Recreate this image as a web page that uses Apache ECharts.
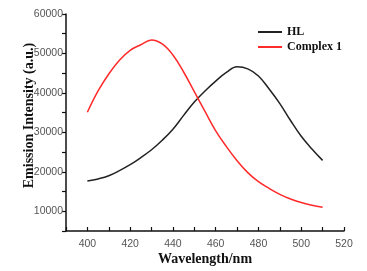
<!DOCTYPE html>
<html>
<head>
<meta charset="utf-8">
<script src="https://cdn.jsdelivr.net/npm/echarts@6/dist/echarts.min.js"></script>
<style>
  html, body { margin: 0; padding: 0; background: #fff; }
  #main { width: 367px; height: 271px; }
</style>
</head>
<body>
<div id="main"></div>
<script>
    // wavelengths (nm)
    var wavelengths = [400, 405, 410, 415, 420, 425, 430, 435, 440, 445, 450, 455, 460, 465, 470, 475, 480, 485, 490, 495, 500, 505, 510];
    var hlValues = [17650, 18200, 19000, 20300, 21800, 23600, 25600, 28000, 30800, 34300, 37700, 40500, 43000, 45200, 46600, 46100, 44300, 41000, 37300, 33000, 29000, 25800, 22900];
    var complexValues = [35100, 40500, 44800, 48300, 50800, 52200, 53400, 52400, 49600, 45300, 40300, 35300, 30400, 26400, 22800, 19800, 17500, 15800, 14300, 13100, 12200, 11500, 11000];
    var seriesNames = ['HL', 'Complex 1'];

    function pairs(xs, ys) {
        var out = [];
        for (var i = 0; i < xs.length; i++) {
            out.push([xs[i], ys[i]]);
        }
        return out;
    }

    var mychart = echarts.init(document.getElementById('main'));
    var serif = '"Liberation Serif", "DejaVu Serif", serif';
    var sans = '"Liberation Sans", Arial, sans-serif';

    mychart.setOption({
        animation: false,
        color: ['#222222', '#ff2a2a'],
        grid: {
            left: 66,
            right: 23,
            top: 14,
            bottom: 33
        },
        legend: {
            left: 253,
            top: 21,
            orient: 'vertical',
            itemWidth: 24,
            itemHeight: 2,
            itemGap: 3,
            icon: 'rect',
            textStyle: {
                fontFamily: serif,
                fontWeight: 'bold',
                fontSize: 12,
                color: '#111',
                padding: [0, 0, 0, 0]
            },
            data: seriesNames
        },
        xAxis: {
            type: 'value',
            min: 390,
            max: 520,
            interval: 10,
            name: 'Wavelength/nm',
            nameLocation: 'middle',
            nameGap: 21,
            nameMoveOverlap: false,
            nameTextStyle: {
                fontFamily: serif,
                fontWeight: 'bold',
                fontSize: 14,
                color: '#111'
            },
            axisLine: { lineStyle: { color: '#111', width: 1.5 } },
            axisTick: { inside: true, length: 4, lineStyle: { color: '#111', width: 1.2 } },
            axisLabel: {
                fontFamily: sans,
                fontSize: 10.5,
                color: '#555',
                margin: 8,
                formatter: function (v) { return v % 20 === 0 ? v : ''; }
            },
            splitLine: { show: false }
        },
        yAxis: {
            type: 'value',
            min: 5000,
            max: 60000,
            interval: 5000,
            name: 'Emission Intensity (a.u.)',
            nameLocation: 'middle',
            nameGap: 30,
            nameMoveOverlap: false,
            nameTextStyle: {
                fontFamily: serif,
                fontWeight: 'bold',
                fontSize: 14,
                color: '#111',
                padding: [0, 0, 0, 14]
            },
            axisLine: { show: true, lineStyle: { color: '#111', width: 1.5 } },
            axisTick: { length: 4, lineStyle: { color: '#111', width: 1.2 } },
            axisLabel: {
                fontFamily: sans,
                fontSize: 10.5,
                color: '#555',
                margin: 3,
                formatter: function (v) { return v % 10000 === 0 ? v : ''; }
            },
            splitLine: { show: false }
        },
        series: [
            {
                name: seriesNames[0],
                type: 'line',
                smooth: 0.4,
                showSymbol: false,
                lineStyle: { width: 1.5 },
                data: pairs(wavelengths, hlValues)
            },
            {
                name: seriesNames[1],
                type: 'line',
                smooth: 0.4,
                showSymbol: false,
                lineStyle: { width: 1.5 },
                data: pairs(wavelengths, complexValues)
            }
        ]
    });
</script>
</body>
</html>
